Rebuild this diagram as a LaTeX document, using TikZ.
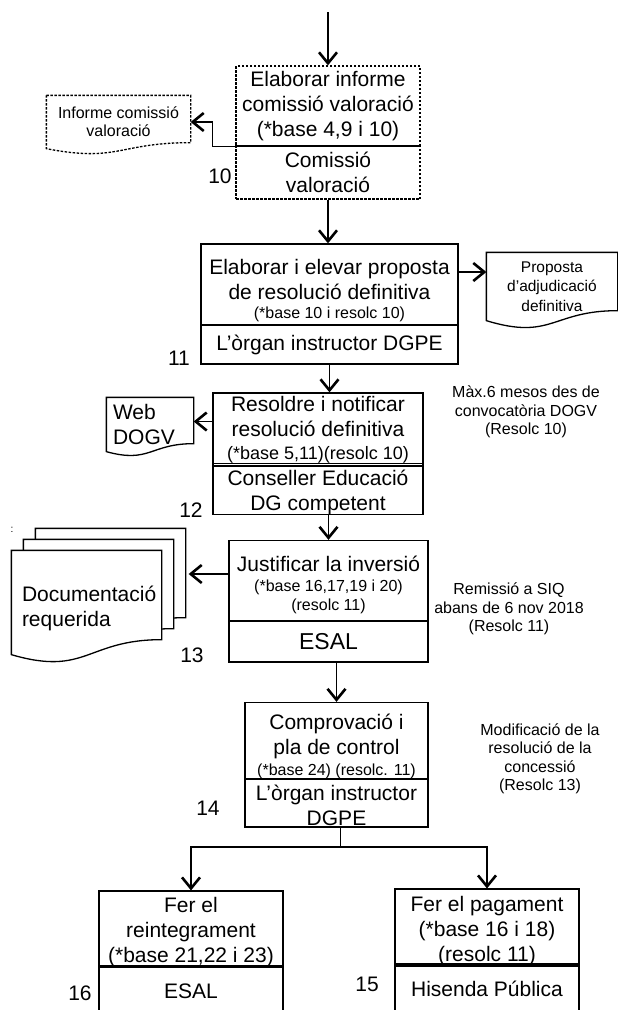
\documentclass[tikz,border=0pt]{standalone}
\usepackage{fontspec}
\setmainfont{Liberation Sans}
\usetikzlibrary{arrows.meta,calc}

% full de paper amb la vora de baix ondulada
\newcommand{\fulla}[4][]{%
  \draw[#1] (#2.north west) -- (#2.north east) -- ($(#2.south east)+(0,-#4)$)
    .. controls ($(#2.south)+(0,-#4)$) and ($(#2.south)+(0,#3)$) .. (#2.south west) -- cycle;}
\newcommand{\petita}{\fontsize{16}{19.5}\selectfont}
\newcommand{\puja}[1]{\rule{0pt}{#1}}

\begin{document}
\begin{tikzpicture}[x=1pt,y=-1pt,line width=1.3pt,
  >={Straight Barb[length=11pt,width=18pt,line width=2.6pt]},
  tasca/.style={draw,inner sep=0pt,align=center,font=\fontsize{21}{25}\selectfont},
  puntejat/.style={dash pattern=on 2.5pt off 1.5pt},
  paper/.style={inner sep=0pt,align=center},
  nota/.style={align=center,font=\fontsize{16}{18.5}\selectfont},
  num/.style={font=\fontsize{21}{25}\selectfont}]

\useasboundingbox (0,0) rectangle (618,1010);
\clip (0,0) rectangle (618,1010);

% 10
\coordinate (inici) at (328,12);
\node[tasca,puntejat,minimum width=184pt,minimum height=80pt] (valor) at (328,106) {Elaborar informe\\comissió valoració\\(*base  4,9 i 10)};
\node[tasca,puntejat,minimum width=184pt,minimum height=53pt] (valorqui) at (328,172.5) {Comissió\\valoració};
\node[num] (n10) at (220,176) {10};

\node[paper,minimum width=143pt,minimum height=52pt,font=\fontsize{16}{18}\selectfont] (informe) at (118.5,122) {Informe comissió\\valoració};
\fulla[puntejat]{informe}{14}{6}

% 11
\node[tasca,minimum width=257pt,minimum height=81pt] (prop) at (329.5,284.5) {\puja{29pt}Elaborar i elevar proposta\\de resolució definitiva\\\raisebox{5.7pt}{\petita (*base  10 i resolc 10)}};
\node[tasca,minimum width=257pt,minimum height=39pt] (propqui) at (329.5,344.5) {L’òrgan instructor DGPE};
\node[num] (n11) at (179,358) {11};

\node[paper,minimum width=130pt,minimum height=67pt,font=\fontsize{15.5}{19.5}\selectfont] (proposta) at (552,286.5) {Proposta\\d’adjudicació\\definitiva};
\fulla{proposta}{20}{10}

% 12
\node[tasca,minimum width=210pt,minimum height=73pt] (resol) at (318,429.5) {\puja{16pt}Resoldre i notificar\\resolució definitiva\\\raisebox{2pt}{\fontsize{18}{23}\selectfont (*base 5,11)(resolc 10)}};
\node[tasca,minimum width=210pt,minimum height=46pt] (resolqui) at (318,489) {\puja{22pt}Conseller Educació\\DG competent};
\node[num] (n12) at (191,510) {12};

\node[paper,align=left,text width=74pt,minimum width=86pt,minimum height=53pt,font=\fontsize{21}{25}\selectfont] (web) at (150,424.5) {Web\\DOGV};
\fulla{web}{12}{8}

\node[nota] (nota10) at (526,412) {Màx.6 mesos des de\\convocatòria DOGV\\(Resolc 10)};

% 13
\node[tasca,minimum width=199pt,minimum height=80pt] (just) at (328.5,581) {\puja{31pt}Justificar la inversió\\\raisebox{4.7pt}{\petita (*base 16,17,19 i 20)}\\\raisebox{10.7pt}{\petita (resolc  11)}};
\node[tasca,minimum width=199pt,minimum height=41pt,font=\fontsize{23}{27}\selectfont] (justqui) at (328.5,641.5) {ESAL};
\node[num] (n13) at (192,655) {13};

\node[paper,minimum width=149pt,minimum height=103pt] (docu3) at (110.5,580.5) {};
\fulla[fill=white]{docu3}{22}{15}
\node[paper,minimum width=149pt,minimum height=103pt] (docu2) at (98.5,591.5) {};
\fulla[fill=white]{docu2}{22}{15}
\node[paper,fill=white,align=left,text width=129pt,minimum width=149pt,minimum height=103pt,font=\fontsize{21}{25}\selectfont] (docu) at (86.5,602.5) {\puja{28pt}Documentació\par requerida};
\fulla{docu}{22}{15}
\node[font=\fontsize{10}{10}\selectfont] (punts) at (12,530) {:};

\node[nota] (nota11) at (509,609) {Remissió a SIQ\\abans de 6 nov 2018\\(Resolc 11)};

% 14
\node[tasca,minimum width=183pt,minimum height=76pt] (compr) at (336.5,741) {\puja{27pt}Comprovació i\\pla de control\\\raisebox{4.5pt}{\petita (*base 24) (resolc. 11)}};
\node[tasca,minimum width=183pt,minimum height=48pt] (comprqui) at (336.5,803) {\puja{20pt}L’òrgan instructor\\DGPE};
\node[num] (n14) at (208,808) {14};

\node[nota] (nota13) at (540,759) {Modificació de la\\resolució de la\\concessió\\(Resolc 13)};

% 15 i 16
\node[tasca,minimum width=184pt,minimum height=74pt] (reint) at (191,929) {\puja{21.5pt}Fer el\\reintegrament\\(*base 21,22 i 23)};
\node[tasca,minimum width=184pt,minimum height=50pt] (reintqui) at (191,991) {ESAL};
\node[num] (n16) at (80,993) {16};

\node[tasca,minimum width=184pt,minimum height=73pt] (pag) at (487,927.5) {\puja{22.5pt}Fer el pagament\\(*base 16 i 18)\\(resolc 11)};
\node[tasca,minimum width=184pt,minimum height=50pt] (pagqui) at (487,989) {Hisenda Pública};
\node[num] (n15) at (367,984) {15};

% fletxes
\draw[->] (inici) -- (valor);
\draw[->] (valor.south west) -- ++(-23,0) |- (informe.east);
\draw[->] (valorqui.south) -- (valorqui.south |- prop.north);
\draw[->] ([yshift=12.5pt]prop.east) -- ([yshift=12.5pt]prop.east -| proposta.west);
\draw[->] (propqui.south) -- (propqui.south |- resol.north);
\draw[->] ([yshift=8pt]resol.west) -- ([yshift=8pt]resol.west -| web.east);
\draw[->] (just.north |- resolqui.south) -- (just.north);
\draw[->] ([yshift=7pt]just.west) -- ([yshift=7pt,xshift=3pt]just.west -| docu3.east);
\draw[->] (compr.north |- justqui.south) -- (compr.north);
\coordinate (branca) at (340.5,847);
\draw (branca |- comprqui.south) -- (branca);
\draw[->] (branca) -| (reint.north);
\draw[->] (branca) -| (pag.north);

\end{tikzpicture}
\end{document}
